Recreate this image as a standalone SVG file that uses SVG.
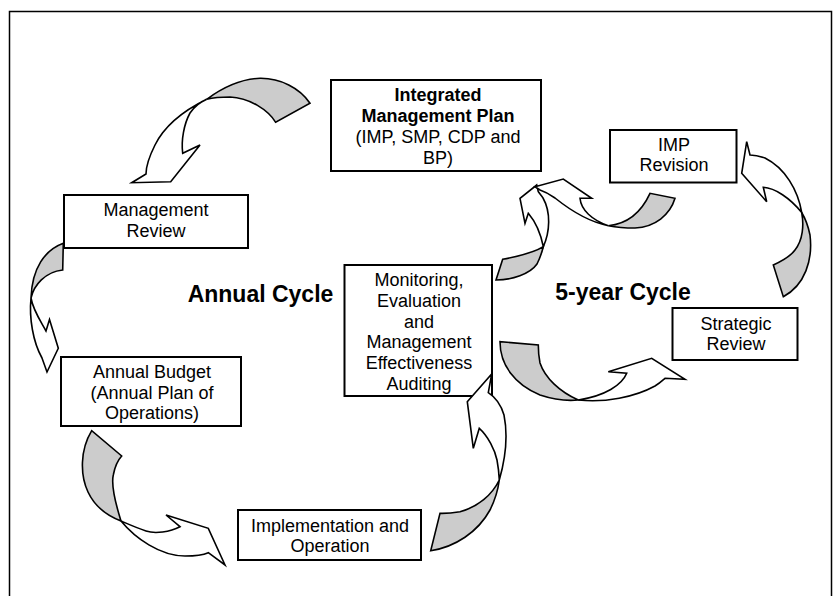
<svg xmlns="http://www.w3.org/2000/svg" width="835" height="596" viewBox="0 0 835 596">
<style>
.frame{fill:#fff;stroke:#000;stroke-width:1.5}
.box{fill:#fff;stroke:#000;stroke-width:2}
.g{fill:#cccccc;stroke:#000;stroke-width:1.6;stroke-linejoin:miter}
.w{fill:#fff;stroke:#000;stroke-width:1.6;stroke-linejoin:miter}
text{font-family:"Liberation Sans",Arial,sans-serif;font-size:18px;text-anchor:middle;fill:#000}
.b{font-weight:bold}
.big{font-weight:bold;font-size:23px}
</style>
<rect class="frame" x="9.5" y="11.5" width="822" height="600"/>
<g id="imp">
<rect class="box" x="331" y="80" width="210" height="91"/>
<text class="b" x="438" y="101">Integrated</text>
<text class="b" x="438" y="122">Management Plan</text>
<text x="438" y="143">(IMP, SMP, CDP and</text>
<text x="438" y="164">BP)</text>
</g>
<g id="mgmt-review">
<rect class="box" x="64" y="195" width="184" height="53"/>
<text x="156" y="216">Management</text>
<text x="156" y="237">Review</text>
</g>
<g id="annual-budget">
<rect class="box" x="61" y="357" width="180" height="69"/>
<text x="152" y="378">Annual Budget</text>
<text x="152" y="398.5">(Annual Plan of</text>
<text x="152" y="419">Operations)</text>
</g>
<g id="implementation">
<rect class="box" x="238" y="510" width="183" height="50"/>
<text x="330" y="532">Implementation and</text>
<text x="330" y="552">Operation</text>
</g>
<g id="monitoring">
<rect class="box" x="344.5" y="265" width="147.5" height="131"/>
<text x="419" y="286">Monitoring,</text>
<text x="419" y="306.5">Evaluation</text>
<text x="419" y="327.5">and</text>
<text x="419" y="348">Management</text>
<text x="419" y="369">Effectiveness</text>
<text x="419" y="390">Auditing</text>
</g>
<g id="imp-revision">
<rect class="box" x="610" y="130" width="126.5" height="52.5"/>
<text x="674" y="151">IMP</text>
<text x="674" y="171">Revision</text>
</g>
<g id="strategic-review">
<rect class="box" x="672.5" y="308" width="125" height="52"/>
<text x="736" y="330">Strategic</text>
<text x="736" y="349.5">Review</text>
</g>
<g id="labels">
<text class="big" x="260.5" y="301.5">Annual Cycle</text>
<text class="big" x="623" y="300">5-year Cycle</text>
</g>
<g id="connectors">
<path class="g" d="M206.7,99.3 C222,88 240,79 260,78.3 C280,78 300,88 310,103.3 L275.7,122.3 C268,110 250,98 230,97 C220,97 212,98 206.7,99.3 Z"/>
<path class="w" d="M206.7,99.3 C185,110 165,125 155,145 C149,157 146,166 146,174 L131.7,182.7 L170.7,181.7 L200,145 L182.7,153.3 C181,140 184,124 190,113 C195,106 200,102 206.7,99.3 Z"/>
<path class="g" d="M63.3,243.3 C45,250 32,268 31,298 C34,285 45,272 62.7,270 Z"/>
<path class="w" d="M31,298 C29,318 33,342 42,358 L47,372 L58.3,348.3 L49.5,319.5 L46,331 C40,320 33,310 31,298 Z"/>
<path class="g" d="M91.7,430.7 C80,450 80,475 88,492 C95,507 108,516 121,521 C116,505 111,485 113.3,475 C115,466 118,460 121.7,456 Z"/>
<path class="w" d="M121,521 C135,538 160,556 185,556 C195,556 203,555 208.3,552.7 L225,565 L208.3,528.3 L166,515 L180,526.7 C170,532 155,534 146,531 C137,528 128,524 121,521 Z"/>
<path class="g" d="M430.7,550.7 C455,547 478,532 490,510 C495,500 498,490 499.3,480 C492,495 478,507 460,511.7 C452,513 446,513.5 440,513.3 Z"/>
<path class="w" d="M499.3,480 C505,460 508,435 504,415 C501,405 495,397 488.3,392.7 L491.7,374 L467.3,401.7 L473.3,448.3 L479.3,428.3 C488,436 495,450 497,460 C498.5,468 499,474 499.3,480 Z"/>
<path class="g" d="M496,280 C512,280 530,274 537,264 C540,258 542,252 543.3,246.7 C535,252 520,256 502.7,259.3 Z"/>
<path class="w" d="M543.3,246.7 C550,232 551,212 543,198 C541,195 539,193 538.3,191.7 L536.7,185 L520,198.3 L525,223.3 L528.3,213.3 C534,220 540,230 543.3,246.7 Z"/>
<path class="g" d="M675,198.3 C670,215 655,227 635,228 C625,228 615,227 608.3,225.7 C625,224 640,215 650,193.3 Z"/>
<path class="w" d="M608.3,225.7 C590,222 570,210 555,198 C548,193 543,191 540,190 L535,186.7 L563.3,179 L591.7,198.3 L580,198.3 C581,210 592,220 608.3,225.7 Z"/>
<path class="g" d="M500,341.7 C500,365 515,385 540,395 C555,400 568,401 578.3,400 C560,392 545,378 540,363 C538.8,357 538.3,350 538.3,345 Z"/>
<path class="w" d="M578.3,400 C605,403 635,397 655,386 C660,383 663,380 665,378.3 L685,379.3 L651.7,358.3 L608.3,371.7 L626.7,373.3 C622,385 605,396 578.3,400 Z"/>
<path class="g" d="M783.3,296.7 C805,285 813,260 810,235 C808,225 805,218 801.7,212.5 C804,225 803,240 795,250 C790,257 782,261 773.3,265 Z"/>
<path class="w" d="M801.7,212.5 C798,190 785,168 765,158 C758,155.5 753,155 750,155 L746.7,141.7 L741.7,173.3 L766.7,201.7 L763.3,187.3 C775,188 790,198 801.7,212.5 Z"/>
</g>
</svg>
